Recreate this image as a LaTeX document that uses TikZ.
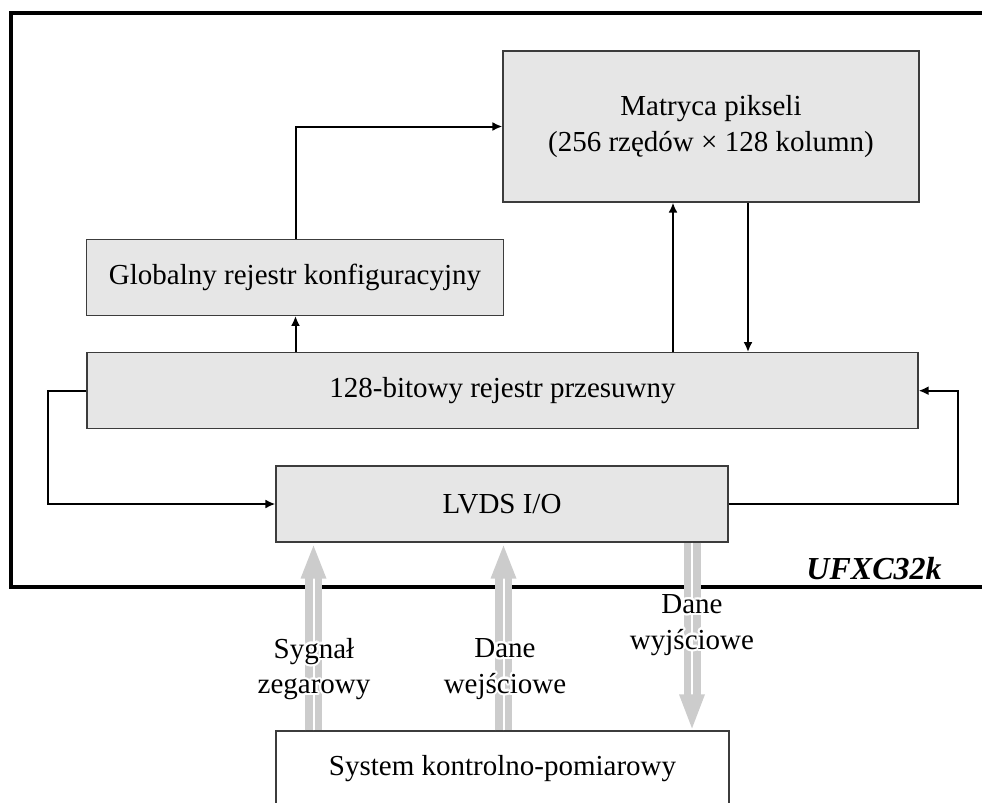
\documentclass[tikz,border=0pt]{standalone}
\usepackage{fontspec}
\setmainfont{Liberation Serif}
\usepackage{contour}
\contourlength{1.1pt}
\usetikzlibrary{arrows.meta,calc}
\definecolor{boxfill}{RGB}{230,230,230}
\definecolor{boxline}{RGB}{60,60,60}
\definecolor{busgray}{RGB}{204,204,204}
\tikzset{
  block/.style={draw=boxline, line width=0.6pt, fill=boxfill, inner sep=0pt,
    align=center, font=\fontsize{14.5}{17.8}\selectfont},
  hostbox/.style={block, fill=white},
  conn/.style={draw=black, line width=1pt, -{Latex[length=5pt,width=4.5pt]}},
  bus/.style={draw=busgray, line width=3.75pt, double=white, double distance=1pt},
  bushead/.style={fill=busgray, draw=none},
  buslabel/.style={align=center, inner sep=0pt, font=\fontsize{14.5}{17.8}\selectfont},
}
\begin{document}
\begin{tikzpicture}[x=0.5pt, y=-0.5pt]
\useasboundingbox (0,0) rectangle (982,803);
\clip (0,0) rectangle (982,803);

% chip outline
\draw[line width=1.6pt] (1000,13) -| (11,587) -- (1000,587);
\node[anchor=base east, inner sep=0pt, font=\fontsize{16}{19}\selectfont\bfseries\itshape]
  (chip) at (942,579) {UFXC32k};

% blocks
\node[block, minimum width=208pt, minimum height=75.5pt] (mat) at (711,126.5)
  {Matryca pikseli\\(256 rzędów × 128 kolumn)};
\node[block, minimum width=208.3pt, minimum height=38pt] (glob) at (295,277.3)
  {Globalny rejestr konfiguracyjny};
\node[block, minimum width=415.5pt, minimum height=38pt] (shift) at (502.5,390.7)
  {128-bitowy rejestr przesuwny};
\node[block, minimum width=226pt, minimum height=38pt] (lvds) at (502,504)
  {LVDS I/O};
\node[hostbox, minimum width=226.5pt, minimum height=38pt] (sys) at (502.5,769)
  {System kontrolno-pomiarowy};

% guide coordinates for vertical wires
\coordinate (xa) at (295.5,0);
\coordinate (xu) at (673,0);
\coordinate (xd) at (748,0);
\coordinate (lx) at (48,0);
\coordinate (rx) at (958,0);
\coordinate (g1) at (313.5,0);
\coordinate (g2) at (503.5,0);
\coordinate (g3) at (692,0);

% internal connections
\draw[conn] (glob.north -| xa) |- (mat.west);
\draw[conn] (shift.north -| xa) -- (glob.south -| xa);
\draw[conn] (shift.north -| xu) -- (mat.south -| xu);
\draw[conn] (mat.south -| xd) -- (shift.north -| xd);
\draw[conn] (shift.west) -- (shift.west -| lx) |- (lvds.west);
\draw[conn] (lvds.east) -- (lvds.east -| rx) |- (shift.east);

% external buses
\coordinate (t1) at (lvds.south -| g1);
\coordinate (t2) at (lvds.south -| g2);
\coordinate (t3) at (sys.north -| g3);
\draw[bus] (sys.north -| g1) -- ($(t1)+(0,35)$);
\fill[bushead] ($(t1)+(0,3)$) -- ($(t1)+(-13,36)$) -- ($(t1)+(13,36)$) -- cycle;
\draw[bus] (sys.north -| g2) -- ($(t2)+(0,35)$);
\fill[bushead] ($(t2)+(0,3)$) -- ($(t2)+(-13,36)$) -- ($(t2)+(13,36)$) -- cycle;
\draw[bus] (lvds.south -| g3) -- ($(t3)+(0,-35)$);
\fill[bushead] ($(t3)+(0,-2)$) -- ($(t3)+(-13,-36)$) -- ($(t3)+(13,-36)$) -- cycle;

% bus labels
\node[buslabel] (lclk) at (314,670) {\contour{white}{Sygnał}\\\contour{white}{zegarowy}};
\node[buslabel] (ldin) at (505,670) {\contour{white}{Dane}\\\contour{white}{wejściowe}};
\node[buslabel] (ldout) at (692,626) {\contour{white}{Dane}\\\contour{white}{wyjściowe}};
\end{tikzpicture}
\end{document}
